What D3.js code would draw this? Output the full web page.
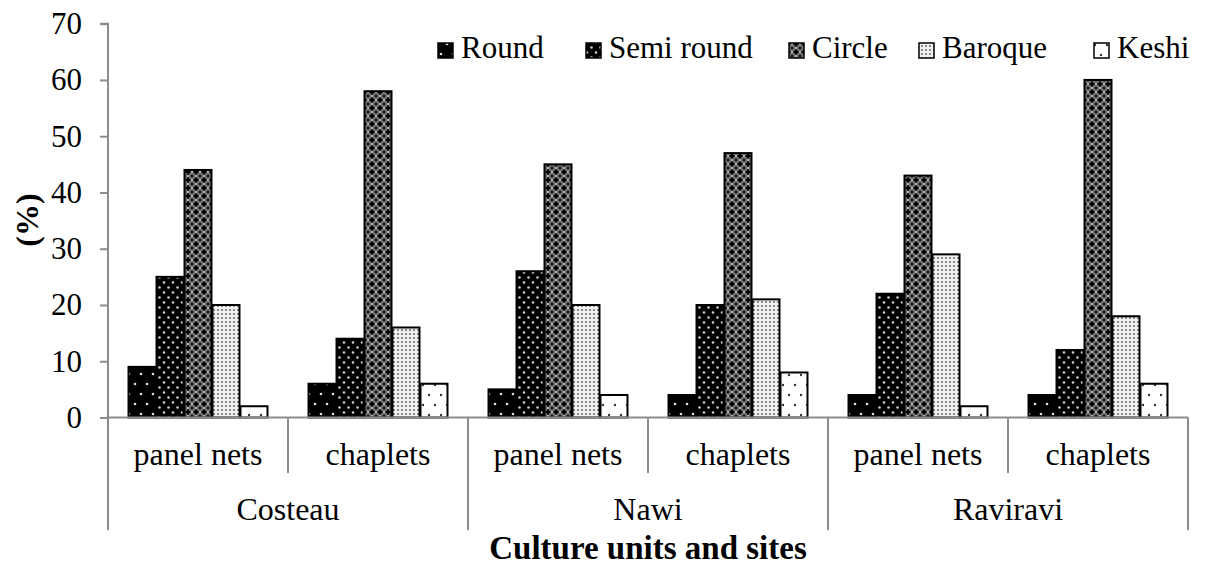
<!DOCTYPE html>
<html>
<head>
<meta charset="utf-8">
<script src="https://cdn.jsdelivr.net/npm/d3@7"></script>
<style>
  html, body { margin: 0; padding: 0; background: #fff; }
  svg { display: block; }
</style>
</head>
<body>
<svg id="chart" width="1208" height="567"></svg>
<script>
// Pearl shape distribution (%) by culture unit and site
const sites = ["Costeau", "Nawi", "Raviravi"];
const units = ["panel nets", "chaplets"];
const shapes = ["Round", "Semi round", "Circle", "Baroque", "Keshi"];
const round     = [9, 6, 5, 4, 4, 4];
const semiRound = [25, 14, 26, 20, 22, 12];
const circle    = [44, 58, 45, 47, 43, 60];
const baroque   = [20, 16, 20, 21, 29, 18];
const keshi     = [2, 6, 4, 8, 2, 6];
const yTicks = [0, 10, 20, 30, 40, 50, 60, 70];

const seriesValues = [round, semiRound, circle, baroque, keshi];
const categories = [];
sites.forEach(s => units.forEach(u => categories.push(s + "|" + u)));

const FONT = "Liberation Serif";
const svg = d3.select("#chart");
const left = 108, right = 1188;
const y0 = 417.5;

const x = d3.scaleBand().domain(categories).range([left, right]).paddingInner(0).paddingOuter(0);
const xInner = d3.scaleBand().domain(shapes).range([0, x.bandwidth()]).paddingOuter(0.715).paddingInner(0);
const y = d3.scaleLinear().domain([0, 70]).range([y0, 23.7]);

// Fill patterns for each shape
const defs = svg.append("defs");
function pat(id, w, h, bg, draw) {
  const p = defs.append("pattern").attr("id", id).attr("patternUnits", "userSpaceOnUse")
    .attr("width", w).attr("height", h);
  p.append("rect").attr("width", w).attr("height", h).attr("fill", bg);
  draw(p);
}
pat("p-round", 12, 20, "#000", p => {
  p.append("circle").attr("cx", 3).attr("cy", 4).attr("r", 1.3).attr("fill", "#ddd");
  p.append("circle").attr("cx", 9).attr("cy", 14).attr("r", 1.3).attr("fill", "#ddd");
});
pat("p-semi", 9, 10, "#000", p => {
  p.append("circle").attr("cx", 2).attr("cy", 2.5).attr("r", 1.3).attr("fill", "#ccc");
  p.append("circle").attr("cx", 6.5).attr("cy", 7.5).attr("r", 1.3).attr("fill", "#ccc");
});
pat("p-circle", 8, 8, "#6e6e6e", p => {
  p.append("path").attr("d", "M4,0.5 L5.2,2.8 L7.5,4 L5.2,5.2 L4,7.5 L2.8,5.2 L0.5,4 L2.8,2.8 Z").attr("fill", "#000");
  p.append("path").attr("d", "M0,0 L1.5,0 L0,1.5 Z M8,0 L6.5,0 L8,1.5 Z M0,8 L1.5,8 L0,6.5 Z M8,8 L6.5,8 L8,6.5 Z").attr("fill", "#000");
  [[0, 4], [8, 4], [4, 0], [4, 8]].forEach(([cx, cy]) =>
    p.append("circle").attr("cx", cx).attr("cy", cy).attr("r", 1).attr("fill", "#c8c8c8"));
});
pat("p-baroque", 4, 4, "#f2f2f2", p => {
  p.append("circle").attr("cx", 2).attr("cy", 2).attr("r", 1.1).attr("fill", "#707070");
});
pat("p-keshi", 12, 20, "#fff", p => {
  p.append("circle").attr("cx", 3).attr("cy", 5).attr("r", 1.2).attr("fill", "#333");
  p.append("circle").attr("cx", 9).attr("cy", 15).attr("r", 1.2).attr("fill", "#333");
});
const fills = ["url(#p-round)", "url(#p-semi)", "url(#p-circle)", "url(#p-baroque)", "url(#p-keshi)"];

// Bars
const bars = [];
categories.forEach((c, ci) => shapes.forEach((s, si) => bars.push({ c, s, si, v: seriesValues[si][ci] })));
svg.append("g").selectAll("rect").data(bars).join("rect")
  .attr("x", d => x(d.c) + xInner(d.s) + 0.5)
  .attr("y", d => y(d.v))
  .attr("width", xInner.bandwidth() - 1)
  .attr("height", d => y0 - y(d.v))
  .attr("fill", d => fills[d.si])
  .attr("stroke", "#000")
  .attr("stroke-width", 2);

// Y axis
const axisColor = "#8c8c8c";
const yAxis = d3.axisLeft(y).tickValues(yTicks).tickSize(8).tickPadding(18);
const gy = svg.append("g").attr("transform", `translate(${left},0)`).call(yAxis)
  .attr("font-family", FONT).attr("font-size", 31);
gy.select(".domain").attr("stroke", axisColor).attr("stroke-width", 2).attr("d", `M-8,${y(70)}H0V${y0 + 18}`);
gy.selectAll(".tick line").attr("stroke", axisColor).attr("stroke-width", 2);
gy.selectAll(".tick text").attr("fill", "#000").attr("font-family", FONT).attr("font-size", 31);

// X axis baseline, divider lines and two-level category labels
const g = svg.append("g").attr("font-family", FONT);
g.append("line").attr("x1", left).attr("x2", right).attr("y1", y0).attr("y2", y0)
  .attr("stroke", axisColor).attr("stroke-width", 2);
categories.forEach((c, i) => {
  const xl = x(c);
  const isSiteEdge = i % 2 === 0;
  g.append("line").attr("x1", xl).attr("x2", xl).attr("y1", y0).attr("y2", isSiteEdge ? 530 : 473)
    .attr("stroke", axisColor).attr("stroke-width", 2);
  g.append("text").attr("x", xl + x.bandwidth() / 2).attr("y", 465).attr("text-anchor", "middle")
    .attr("font-family", FONT).attr("font-size", 32).text(c.split("|")[1]);
});
g.append("line").attr("x1", right).attr("x2", right).attr("y1", y0).attr("y2", 530)
  .attr("stroke", axisColor).attr("stroke-width", 2);
sites.forEach(s => {
  const xs = x(s + "|" + units[0]) + x.bandwidth();
  g.append("text").attr("x", xs).attr("y", 520).attr("text-anchor", "middle")
    .attr("font-family", FONT).attr("font-size", 32).text(s);
});

// Axis titles
svg.append("text").attr("x", 648).attr("y", 559).attr("text-anchor", "middle")
  .attr("font-family", FONT).attr("font-size", 33).attr("font-weight", "bold").text("Culture units and sites");
svg.append("text").attr("transform", "translate(38,220) rotate(-90)").attr("text-anchor", "middle")
  .attr("font-family", FONT).attr("font-size", 32).attr("font-weight", "bold").text("(%)");

// Legend
const legendX = [437, 585, 788, 918, 1093];
const lg = svg.append("g");
shapes.forEach((s, i) => {
  lg.append("rect").attr("x", legendX[i] + 1).attr("y", 43).attr("width", 15).attr("height", 15)
    .attr("fill", fills[i]).attr("stroke", "#000").attr("stroke-width", 1.5);
  lg.append("text").attr("x", legendX[i] + 24).attr("y", 58)
    .attr("font-family", FONT).attr("font-size", 31).text(s);
});
</script>
</body>
</html>
